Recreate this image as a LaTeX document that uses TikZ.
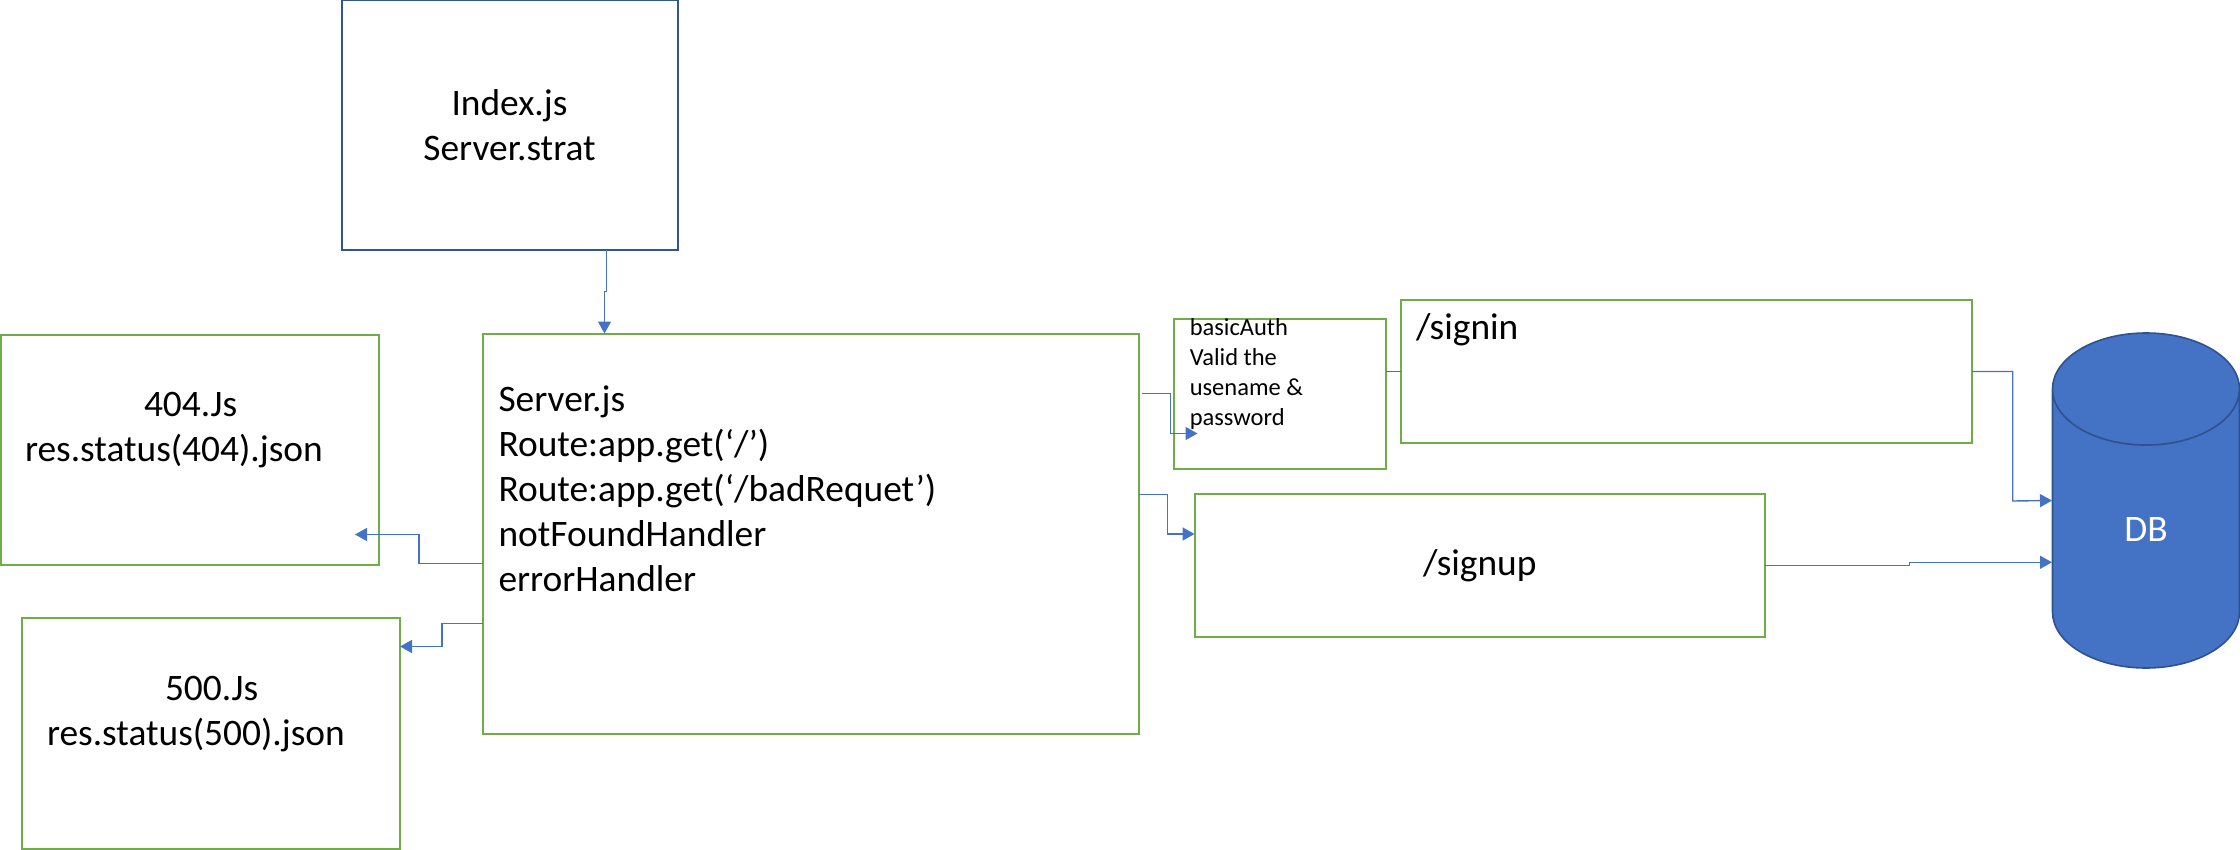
\documentclass[tikz,border=0pt]{standalone}
\usepackage{fontspec}
\setmainfont{Carlito}
\usetikzlibrary{arrows.meta,shapes.geometric}
\definecolor{boxgreen}{HTML}{70AD47}
\definecolor{boxblue}{HTML}{2F5597}
\definecolor{wireblue}{HTML}{4472C4}
\definecolor{dbedge}{HTML}{2F528F}
\tikzset{
  greenbox/.style={draw=boxgreen,line width=2pt,outer sep=0pt,align=left,font=\fontsize{37.4}{45}\selectfont},
  wire/.style={draw=wireblue,line width=1.4pt,-{Triangle[length=12pt,width=13pt]}}
}
\begin{document}
\begin{tikzpicture}[x=1pt,y=-1pt]
  \useasboundingbox (0,0) rectangle (2240,850);
  % boxes
  \node[greenbox,draw=boxblue,align=center,minimum width=336pt,minimum height=250pt] (index) at (509.5,125.5) {Index.js\\Server.strat};
  \node[greenbox,minimum width=656pt,minimum height=400pt,inner xsep=16pt,text width=624pt] (server) at (810.5,533.5) {Server.js\\Route:app.get(‘/’)\\Route:app.get(‘/badRequet’)\\notFoundHandler\\errorHandler\\~\\~};
  \node[greenbox,minimum width=378pt,minimum height=230pt,inner xsep=24pt,text width=330pt] (nf) at (190,449.7) {\hspace*{119pt}404.Js\\res.status(404).json\\~};
  \node[greenbox,minimum width=378pt,minimum height=231pt,inner xsep=25pt,text width=328pt] (err) at (211,733) {\hspace*{118pt}500.Js\\res.status(500).json\\~};
  \node[greenbox,minimum width=212.5pt,minimum height=150pt] (basic) at (1279.8,393.5) {};
  \node[anchor=north west,inner sep=0pt,align=left,font=\fontsize{24.5}{30}\selectfont] (basictext) at ([xshift=16pt]basic.north west) {basicAuth\\Valid the\\usename \&\\password};
  \node[greenbox,minimum width=571pt,minimum height=143pt,inner xsep=15pt,text width=541pt] (signin) at (1686.5,371.5) {/signin\\~\\~};
  \node[greenbox,align=center,minimum width=570.5pt,minimum height=143pt] (signup) at (1479.8,565.5) {/signup};
  \node[cylinder,shape border rotate=90,draw=dbedge,fill=wireblue,line width=1.6pt,aspect=2.24,minimum width=187pt,minimum height=335pt,outer sep=0pt,anchor=shape center,text=white,text depth=14pt,font=\fontsize{37.4}{45}\selectfont] (db) at (2146,500.5) {DB};
  \coordinate (tipnf) at (355,534.5);
  \coordinate (tipbasic) at (1197.5,433.5);
  % connectors
  \draw[wire] ([xshift=97pt]index.south) -- ++(0,41) -| ([xshift=-206pt]server.north);
  \draw[wire] ([yshift=-30pt]server.west) -| (419,534.5) -- (tipnf);
  \draw[wire] ([yshift=-90pt]server.west) -| (442,646.5) -- ([yshift=86.5pt]err.east);
  \draw[wire] ([xshift=3.5pt]server.east |- basic.west) -| (1170.5,433.5) -- (tipbasic);
  \draw[wire] ([yshift=38.8pt]server.east) -| (1167.6,534) -- ([yshift=31.5pt]signup.west);
  \draw[draw=wireblue,line width=1.4pt] (basic.east |- signin.west) -- (signin.west);
  \draw[wire] (signin.east) -| (2012.7,501) -- ([xshift=-94pt]db.shape center);
  \draw[wire] (signup.east) -- (1909.5,565.5) -- (1909.5,562.3) -- ([shift={(-94pt,-61.8pt)}]db.shape center);
\end{tikzpicture}
\end{document}
